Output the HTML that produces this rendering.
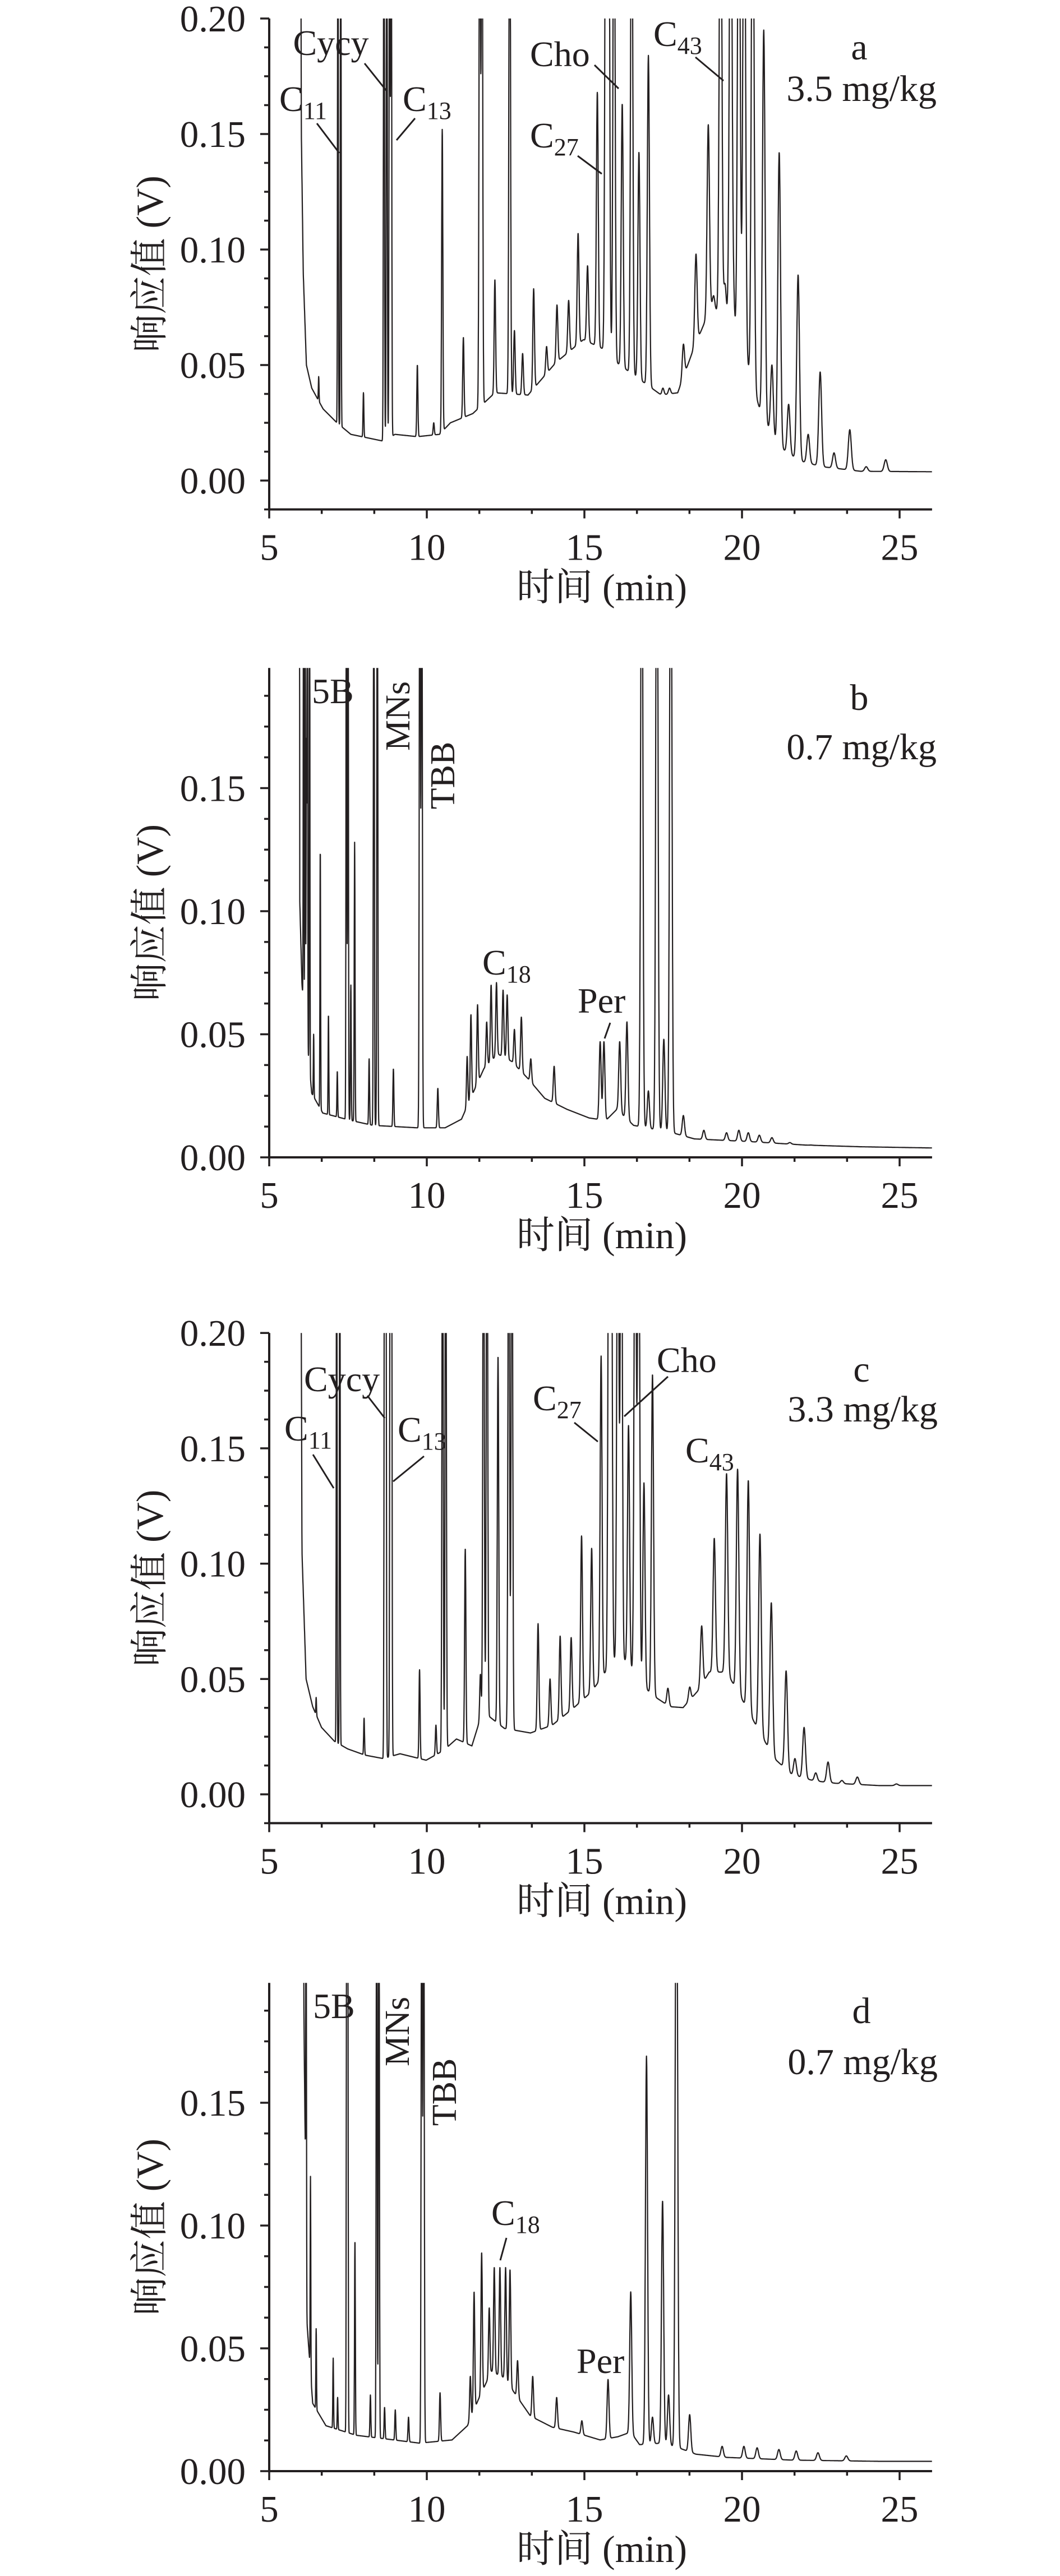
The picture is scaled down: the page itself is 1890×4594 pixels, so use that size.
<!DOCTYPE html>
<html><head><meta charset="utf-8">
<style>
html,body{margin:0;padding:0;background:#fff;}
svg{display:block;}
text{font-family:"Liberation Serif","Noto Serif CJK SC",serif;fill:#231f20;}
</style></head>
<body>
<svg id="fig" width="1890" height="4594" viewBox="0 0 1890 4594" xmlns="http://www.w3.org/2000/svg"></svg>
<script>
// ---------- data (retention time in min, response in V) ----------
// Panel a
const aBaseT = [5.95,6.02,6.08,6.18,6.35,6.71,7.15,7.59,8.29,8.64,8.99,9.70,10.4,10.75,11.46,12.16,13.21,14.09,14.97,15.59,16.03,16.73,17.44,17.96,18.49,19.02,19.55,20.07,20.6,21.13,21.83,22.54,23.77,26.1];
const aBaseV = [0.5,0.15,0.09,0.05,0.04,0.031,0.025,0.02,0.018,0.017,0.02,0.019,0.02,0.025,0.029,0.038,0.037,0.051,0.061,0.057,0.051,0.044,0.037,0.038,0.058,0.075,0.07,0.055,0.029,0.015,0.0085,0.006,0.004,0.0038];
const aPeakT = [6.57,7.18,7.27,7.99,8.64,8.73,8.82,8.87,9.70,10.22,10.49,11.16,11.68,11.75,12.16,12.63,12.78,13.04,13.39,13.8,14.13,14.5,14.8,15.1,15.41,15.68,15.77,15.94,16.2,16.5,16.73,17.03,17.49,17.7,18.14,18.54,18.93,19.1,19.32,19.46,19.64,19.72,19.9,20.07,20.34,20.69,20.95,21.18,21.48,21.78,22.1,22.48,22.92,23.42,23.94,24.56];
const aPeakV = [0.045,0.3,0.3,0.038,0.3,0.3,0.3,0.3,0.05,0.025,0.152,0.062,0.3,0.3,0.087,0.3,0.065,0.055,0.083,0.058,0.076,0.078,0.107,0.093,0.168,0.3,0.3,0.3,0.163,0.3,0.142,0.184,0.04,0.04,0.059,0.098,0.154,0.08,0.3,0.085,0.3,0.082,0.3,0.3,0.3,0.195,0.05,0.142,0.033,0.089,0.02,0.047,0.012,0.022,0.006,0.009];
// Panel b
const bBaseT = [5.95,5.97,6.04,6.35,6.7,7.59,8.29,9.7,10.58,11.1,11.46,11.81,12.25,12.69,13.21,13.74,14.45,15.15,15.68,16.03,16.56,17.79,18.49,20.25,22.0,23.77,26.1];
const bBaseV = [0.5,0.104,0.07,0.026,0.018,0.015,0.013,0.012,0.012,0.0155,0.026,0.036,0.042,0.039,0.032,0.024,0.0195,0.016,0.015,0.0195,0.013,0.01,0.0075,0.0064,0.005,0.0043,0.0038];
const bPeakT = [6.09,6.14,6.18,6.21,6.28,6.41,6.62,6.88,7.16,7.45,7.5,7.59,7.71,8.17,8.32,8.43,8.94,9.78,9.84,10.35,11.28,11.4,11.61,11.9,12.04,12.21,12.42,12.55,12.78,13.0,13.3,14.04,15.5,15.62,16.12,16.35,16.82,17.03,17.3,17.52,17.74,18.14,18.79,19.51,19.9,20.2,20.55,20.95,21.52,22.19,23.07];
const bPeakV = [0.3,0.3,0.17,0.3,0.3,0.05,0.125,0.058,0.035,0.3,0.3,0.07,0.128,0.04,0.3,0.3,0.036,0.3,0.3,0.028,0.041,0.058,0.062,0.055,0.07,0.071,0.068,0.066,0.052,0.057,0.04,0.037,0.047,0.047,0.047,0.055,0.3,0.027,0.3,0.048,0.3,0.017,0.011,0.01,0.011,0.01,0.009,0.008,0.006,0.005,0.0045];
// Panel c
const cBaseT = [5.95,6.04,6.17,6.38,6.66,7.07,7.49,8.04,8.62,9.15,9.98,10.53,10.94,11.43,11.77,12.46,13.29,13.98,14.67,15.23,15.92,16.33,16.75,17.16,17.71,18.13,18.61,18.96,19.51,19.93,20.48,21.03,21.58,22.27,22.97,24.35,26.1];
const cBaseV = [0.5,0.105,0.05,0.038,0.029,0.023,0.0197,0.017,0.0155,0.0176,0.0148,0.019,0.024,0.021,0.036,0.0286,0.0266,0.03,0.0376,0.0445,0.058,0.058,0.0486,0.043,0.038,0.0376,0.045,0.053,0.053,0.043,0.029,0.0155,0.0086,0.0059,0.0048,0.0038,0.0038];
const cPeakT = [6.49,7.14,7.24,8.01,8.66,8.7,8.84,8.88,9.77,10.29,10.5,10.6,11.22,11.7,11.8,11.91,12.26,12.6,12.7,13.53,13.91,14.23,14.58,14.91,15.23,15.53,15.78,15.85,16.06,16.17,16.4,16.61,16.72,16.89,17.16,17.65,18.34,18.72,19.12,19.51,19.86,20.2,20.57,20.93,21.4,21.68,21.97,22.34,22.73,23.17,23.66,24.9];
const cPeakV = [0.042,0.3,0.3,0.033,0.3,0.3,0.3,0.3,0.054,0.03,0.3,0.3,0.1066,0.052,0.3,0.3,0.19,0.3,0.3,0.074,0.05,0.0686,0.068,0.112,0.1066,0.19,0.3,0.3,0.3,0.3,0.16,0.3,0.3,0.135,0.182,0.046,0.0465,0.073,0.111,0.139,0.141,0.136,0.1128,0.083,0.0535,0.0155,0.029,0.0093,0.014,0.006,0.0075,0.0045];
// Panel d
const dBaseT = [5.85,6.2,6.38,6.8,7.76,8.59,9.77,10.8,11.29,11.63,12.05,12.46,12.88,13.29,13.98,14.67,15.5,16.06,16.47,16.75,17.44,17.99,18.54,19.51,21.58,24.35,26.1];
const dBaseV = [0.5,0.06,0.0276,0.0185,0.0146,0.0133,0.0114,0.0127,0.0185,0.029,0.0406,0.038,0.03,0.0224,0.0179,0.0159,0.0127,0.014,0.0159,0.0108,0.0114,0.0095,0.0069,0.0056,0.0045,0.004,0.004];
const dPeakT = [5.9,6.0,6.08,6.17,6.31,6.49,7.03,7.17,7.46,7.49,7.72,8.21,8.41,8.48,8.66,9.0,9.42,9.84,9.9,10.42,11.38,11.5,11.74,11.98,12.14,12.32,12.5,12.64,12.88,13.36,14.12,14.92,15.75,16.47,16.97,17.16,17.48,17.67,17.92,18.34,19.37,20.06,20.48,21.17,21.72,22.41,23.31];
const dPeakV = [0.3,0.3,0.3,0.3,0.12,0.058,0.046,0.03,0.3,0.3,0.094,0.031,0.3,0.3,0.026,0.025,0.022,0.3,0.3,0.032,0.0386,0.073,0.089,0.0665,0.083,0.083,0.083,0.082,0.045,0.0386,0.03,0.0205,0.0373,0.073,0.169,0.022,0.11,0.031,0.3,0.023,0.0101,0.0101,0.0095,0.0088,0.0082,0.0075,0.0062];

// axis tick labels
const xTickLabels = ["5","10","15","20","25"];
const yTickLabelsAC = ["0.00","0.05","0.10","0.15","0.20"];
const yTickLabelsBD = ["0.00","0.05","0.10","0.15"];

// ---------- layout ----------
const NS = "http://www.w3.org/2000/svg";
const svg = document.getElementById("fig");
const X0 = 480, PXMIN = 56.2, TMIN = 5, TMAX = 26.03;
function xOf(t){ return X0 + (t - TMIN) * PXMIN; }

function el(tag, attrs, parent){
  const e = document.createElementNS(NS, tag);
  for (const k in attrs) e.setAttribute(k, attrs[k]);
  (parent || svg).appendChild(e);
  return e;
}
function interp(T, V, t){
  if (t <= T[0]) return V[0];
  for (let i = 1; i < T.length; i++){
    if (t <= T[i]){ const f = (t - T[i-1])/(T[i]-T[i-1]); return V[i-1] + f*(V[i]-V[i-1]); }
  }
  return V[V.length-1];
}

const panels = [
  {key:"a", zeroY:857, pxPerV:4120, yMin:-0.0125, yMax:0.2, labels:yTickLabelsAC, baseT:aBaseT, baseV:aBaseV, peakT:aPeakT, peakV:aPeakV},
  {key:"b", zeroY:2064, pxPerV:4390, yMin:0, yMax:0.1988, labels:yTickLabelsBD, baseT:bBaseT, baseV:bBaseV, peakT:bPeakT, peakV:bPeakV},
  {key:"c", zeroY:3200, pxPerV:4114, yMin:-0.0125, yMax:0.2, labels:yTickLabelsAC, baseT:cBaseT, baseV:cBaseV, peakT:cPeakT, peakV:cPeakV},
  {key:"d", zeroY:4407, pxPerV:4380, yMin:0, yMax:0.1988, labels:yTickLabelsBD, baseT:dBaseT, baseV:dBaseV, peakT:dPeakT, peakV:dPeakV}
];

panels.forEach(p => {
  const yOf = v => p.zeroY - v * p.pxPerV;
  const top = yOf(p.yMax), bot = yOf(p.yMin);
  const g = el("g", {});
  
  

  const cp = el("clipPath", {id:"clip-"+p.key}, g);
  el("rect", {x:X0, y:top, width:xOf(TMAX)-X0+2, height:bot-top}, cp);

  let d = "";
  const amps = p.peakT.map((t,i) => Math.max(0, p.peakV[i] - interp(p.baseT, p.baseV, t)));
  const tStart = p.baseT[0];
  for (let t = tStart; t <= TMAX; t += 0.004){
    let v = interp(p.baseT, p.baseV, t);
    for (let i = 0; i < p.peakT.length; i++){
      const s = 0.009 + 0.0022 * Math.max(0, p.peakT[i] - 6);
      const dt = t - p.peakT[i];
      if (Math.abs(dt) < 6*s) v += amps[i] * Math.exp(-dt*dt/(2*s*s));
    }
    const y = Math.max(top - 20, yOf(v));
    d += (d ? "L" : "M") + xOf(t).toFixed(1) + " " + y.toFixed(1);
  }
  const tr = el("path", {d:d, fill:"none", stroke:"#231f20", "stroke-width":2.2, "stroke-linejoin":"round", "clip-path":"url(#clip-"+p.key+")"}, g);
  
  

  const yAxis = el("line", {x1:X0, y1:top, x2:X0, y2:bot+2, stroke:"#231f20", "stroke-width":4}, g);
  
  
  const xAxis = el("line", {x1:X0-2, y1:bot, x2:xOf(TMAX), y2:bot, stroke:"#231f20", "stroke-width":4}, g);
  
  

  for (let k = Math.round(p.yMin/0.0125); k*0.0125 <= p.yMax + 1e-9; k++){
    const v = k*0.0125, y = yOf(v), major = (k % 4 === 0);
    el("line", {x1:X0 - (major?16:9), y1:y, x2:X0, y2:y, stroke:"#231f20", "stroke-width":3.5}, g);
  }
  p.labels.forEach((lab, i) => {
    const tx = el("text", {x:438, y:yOf(i*0.05)+23, "text-anchor":"end", "font-size":67}, g);
    tx.textContent = lab;
    
    
  });
  for (let k = 0; TMIN + k*5/3 <= TMAX + 1e-6; k++){
    const x = xOf(TMIN + k*5/3), major = (k % 3 === 0);
    el("line", {x1:x, y1:bot, x2:x, y2:bot + (major?16:8), stroke:"#231f20", "stroke-width":3.5}, g);
  }
  xTickLabels.forEach((lab, i) => {
    const tx = el("text", {x:xOf(5 + i*5), y:bot+90, "text-anchor":"middle", "font-size":67}, g);
    tx.textContent = lab;
    
    
  });
  const xt = el("text", {x:1073, y:bot+162, "text-anchor":"middle", "font-size":68}, g);
  xt.textContent = "时间 (min)";
  
  
  const cy = (top + bot)/2;
  const yt = el("text", {x:0, y:0, "text-anchor":"middle", "font-size":68, transform:"translate(290," + cy + ") rotate(-90)"}, g);
  yt.textContent = "响应值 (V)";
  
  
});

// ---------- annotations ----------
function label(x, y, main, sub, anchor, name, size){
  const t = el("text", {x:x, y:y, "font-size":size||64, "text-anchor":anchor||"start"});
  
  
  t.appendChild(document.createTextNode(main));
  if (sub){
    const ts = el("tspan", {"font-size":44, dy:14}, t);
    ts.textContent = sub;
  }
  return t;
}
function leader(x1,y1,x2,y2,name){
  const l = el("line", {x1:x1,y1:y1,x2:x2,y2:y2, stroke:"#231f20", "stroke-width":3});
  
  
}
function rlabel(cx, cy, txt, name){
  const t = el("text", {x:0, y:0, "font-size":62, "text-anchor":"middle", transform:"translate(" + (cx+22) + "," + cy + ") rotate(-90)"});
  t.textContent = txt;
  
  
}

// panel a
label(498, 198, "C", "11", "start", "label-c11");
leader(565,220,605,273,"leader-c11");
label(590, 98, "Cycy", null, "middle", "label-cycy");
leader(650,113,690,163,"leader-cycy");
label(718, 198, "C", "13", "start", "label-c13");
leader(740,211,707,250,"leader-c13");
label(945, 118, "Cho", null, "start", "label-cho");
leader(1060,116,1103,158,"leader-cho");
label(945, 263, "C", "27", "start", "label-c27");
leader(1030,278,1073,310,"leader-c27");
label(1165, 82, "C", "43", "start", "label-c43");
leader(1240,102,1290,144,"leader-c43");
label(1532, 106, "a", null, "middle", "panel-letter-a", 66);
label(1670, 180, "3.5 mg/kg", null, "end", "concentration-a", 66);

// panel b
label(556, 1254, "5B", null, "start", "label-5b");
rlabel(708, 1277, "MNs", "label-mns");
rlabel(788, 1383, "TBB", "label-tbb");
label(1532, 1266, "b", null, "middle", "panel-letter-b", 66);
label(1670, 1354, "0.7 mg/kg", null, "end", "concentration-b", 66);
label(860, 1738, "C", "18", "start", "label-c18");
label(1030, 1806, "Per", null, "start", "label-per");
leader(1088,1824,1078,1852,"leader-per");

// panel c
label(507, 2569, "C", "11", "start", "label-c11");
leader(558,2594,595,2654,"leader-c11");
label(542, 2481, "Cycy", null, "start", "label-cycy");
leader(655,2489,686,2529,"leader-cycy");
label(709, 2571, "C", "13", "start", "label-c13");
leader(756,2597,701,2642,"leader-c13");
label(950, 2515, "C", "27", "start", "label-c27");
leader(1024,2537,1066,2571,"leader-c27");
label(1171, 2447, "Cho", null, "start", "label-cho");
leader(1191,2455,1113,2526,"leader-cho");
label(1222, 2608, "C", "43", "start", "label-c43");
label(1536, 2464, "c", null, "middle", "panel-letter-c", 66);
label(1672, 2535, "3.3 mg/kg", null, "end", "concentration-c", 66);

// panel d
label(558, 3599, "5B", null, "start", "label-5b");
rlabel(707, 3623, "MNs", "label-mns");
rlabel(791, 3731, "TBB", "label-tbb");
label(1536, 3608, "d", null, "middle", "panel-letter-d", 66);
label(1672, 3699, "0.7 mg/kg", null, "end", "concentration-d", 66);
label(876, 3968, "C", "18", "start", "label-c18");
leader(903,3991,892,4031,"leader-c18");
label(1028, 4232, "Per", null, "start", "label-per");
</script>
</body></html>
